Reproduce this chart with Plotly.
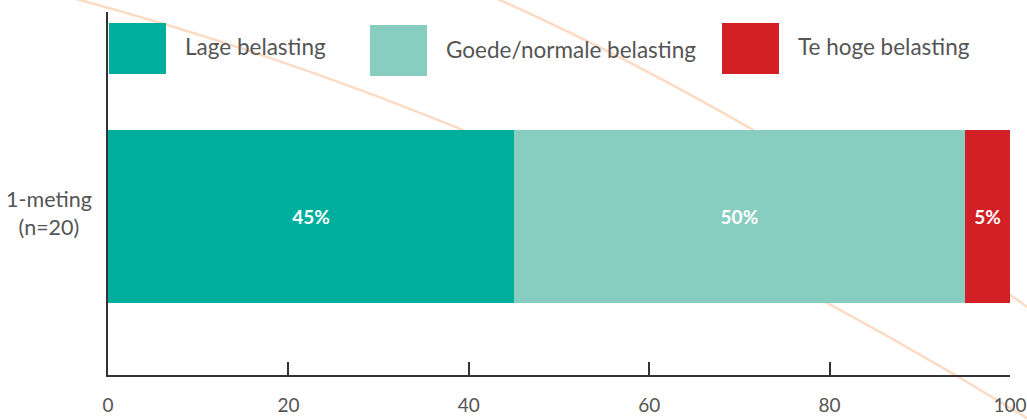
import plotly.graph_objects as go

# ---- data ----
categories = ["1-meting<br>(n=20)"]
series_names = ["Lage belasting", "Goede/normale belasting", "Te hoge belasting"]
lage = [45]
normaal = [50]
hoog = [5]
series_values = [lage, normaal, hoog]
series_colors = ["#00AE9D", "#87CEC0", "#D31F26"]
x_ticks = [0, 20, 40, 60, 80, 100]
x_tick_labels = ["0", "20", "40", "60", "80", "100"]

# ---- geometry (pixels) ----
W, H = 1027, 420
ML, MR, MT, MB = 108, 17, 12, 45
PW, PH = W - ML - MR, H - MT - MB


def px(x):
    return (x - ML) / PW


def py(y):
    return (H - MB - y) / PH


TEXT_COLOR = "#555555"
FONT = "Lato"

fig = go.Figure()
for name, vals, col in zip(series_names, series_values, series_colors):
    fig.add_trace(go.Bar(
        y=categories, x=vals, name=name, orientation="h",
        marker=dict(color=col, line=dict(width=0)),
        width=1,
        texttemplate="<b>%{x}%</b>", textposition="inside",
        insidetextanchor="middle", textangle=0,
        textfont=dict(color="white", size=19, family=FONT),
        showlegend=False, hoverinfo="skip",
    ))

shapes = []


# decorative peach curves (quadratic in pixel space)
def quad_path(a, b, c, x0, x2):
    f = lambda x: a + b * x + c * x * x
    d = lambda x: b + 2 * c * x
    y0, y2 = f(x0), f(x2)
    xc = (x0 + x2) / 2
    yc = y0 + d(x0) * (x2 - x0) / 2
    return "M {:.5f},{:.5f} Q {:.5f},{:.5f} {:.5f},{:.5f}".format(
        px(x0), py(y0), px(xc), py(yc), px(x2), py(y2))


for (a, b, c, x0, x2) in [(-20.45, 0.24114, 1.810e-4, 50, 1060),
                          (-161.7, 0.1973, 2.522e-4, 470, 1060)]:
    shapes.append(dict(type="path", xref="paper", yref="paper",
                       path=quad_path(a, b, c, x0, x2),
                       line=dict(color="#FDDAC2", width=2.5), layer="below"))

# legend (custom big swatches)
legend_left = [109, 370, 722]
legend_top = [23, 25, 23]
SW, SH = 57, 51
annotations = []
for name, col, lx, ty in zip(series_names, series_colors, legend_left, legend_top):
    shapes.append(dict(type="rect", xref="paper", yref="paper",
                       x0=px(lx), x1=px(lx + SW), y0=py(ty + SH), y1=py(ty),
                       fillcolor=col, line=dict(width=0), layer="above"))
    annotations.append(dict(xref="paper", yref="paper", x=px(lx + SW + 17),
                            y=py(ty + 24), xanchor="left", yanchor="middle",
                            text=name, showarrow=False,
                            font=dict(size=22.5, color=TEXT_COLOR, family=FONT)))

# category label, centred lines
for cat in categories:
    annotations.append(dict(xref="paper", yref="y", x=0, y=cat, xshift=-14,
                            yshift=4, xanchor="right", yanchor="middle",
                            align="center", text=cat, showarrow=False,
                            font=dict(size=21.5, color=TEXT_COLOR, family=FONT)))

fig.update_layout(
    width=W, height=H,
    margin=dict(l=ML, r=MR, t=MT, b=MB, pad=0, autoexpand=False),
    barmode="stack",
    paper_bgcolor="white", plot_bgcolor="rgba(0,0,0,0)",
    shapes=shapes, annotations=annotations,
    font=dict(family=FONT, color=TEXT_COLOR),
    xaxis=dict(range=[0, 100], tickvals=x_ticks, ticktext=x_tick_labels,
               showgrid=False, zeroline=False, showline=True,
               linecolor="#333333", linewidth=2,
               ticks="inside", ticklen=13, tickwidth=2, tickcolor="#333333",
               ticklabelstandoff=12, automargin=False,
               ticklabeloverflow="allow",
               tickfont=dict(size=19, color=TEXT_COLOR, family=FONT),
               fixedrange=True),
    yaxis=dict(type="category", range=[-0.916, 1.182], showgrid=False,
               zeroline=False, showline=True, linecolor="#333333", linewidth=2,
               ticks="", showticklabels=False, fixedrange=True, automargin=False),
)

fig.write_html("out.html", config={"displayModeBar": False},
               post_script="document.body.style.margin='0';")
